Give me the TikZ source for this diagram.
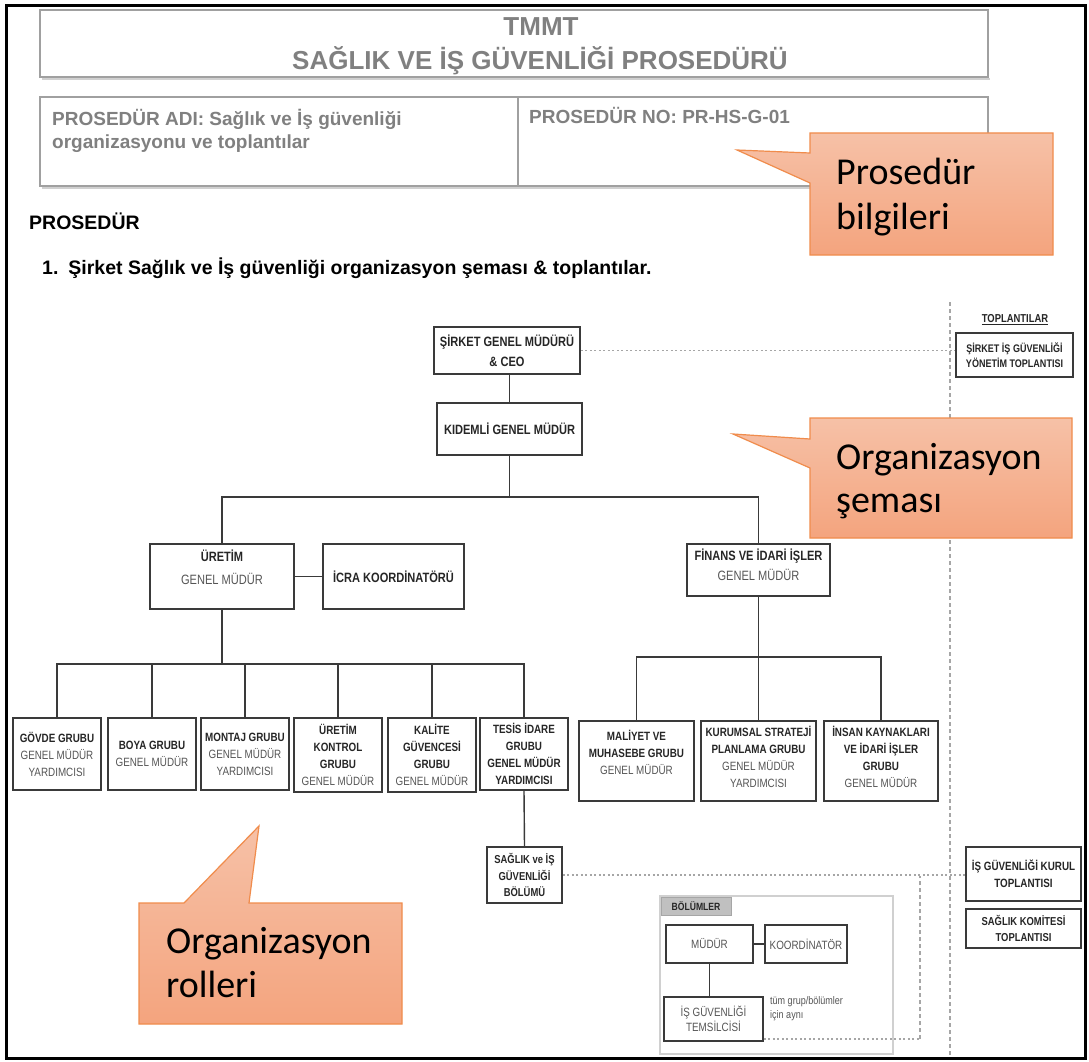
\documentclass[tikz,border=0pt]{standalone}
\usepackage{fontspec}
\setmainfont{Liberation Sans}
\newfontfamily\calfont{Carlito}
\newfontfamily\orgfont[FakeStretch=0.82]{Liberation Sans}
\usetikzlibrary{calc}
\definecolor{hdrgray}{HTML}{808080}
\definecolor{hdrline}{HTML}{A0A0A0}
\definecolor{hdrshadow}{HTML}{D0D0D0}
\definecolor{boxline}{HTML}{3A3A3A}
\definecolor{txtdark}{HTML}{262626}
\definecolor{txtgray}{HTML}{555555}
\definecolor{calloutTop}{HTML}{F6C1A7}
\definecolor{calloutBot}{HTML}{F4A47E}
\definecolor{calloutLine}{HTML}{F08C4C}
\definecolor{guide}{HTML}{A6A6A6}
\definecolor{tabfill}{HTML}{C0C0C0}
\newcommand{\ob}{\orgfont\bfseries\color{txtdark}}
\newcommand{\onr}{\orgfont\mdseries\color{txtgray}}
\tikzset{
  obox/.style={draw=boxline, line width=1.5pt, fill=white, align=center, inner sep=1pt},
  bigtxt/.style={font=\orgfont\fontsize{13.5}{20}\selectfont},
  smalltxt/.style={font=\orgfont\fontsize{12}{17}\selectfont},
  conn/.style={draw=boxline, line width=1.4pt},
  dotln/.style={draw=guide, line width=1.4pt, dash pattern=on 2pt off 2.5pt},
  dashln/.style={draw=guide, line width=1.4pt, dash pattern=on 4pt off 3pt},
  callout/.style={draw=calloutLine, line width=1.2pt, top color=calloutTop, bottom color=calloutBot},
  calltxt/.style={font=\calfont\fontsize{38}{46}\selectfont, anchor=base west, text=black, inner sep=0pt},
  hdrtxt/.style={font=\bfseries\fontsize{19}{23}\selectfont, text=hdrgray, anchor=base west, inner sep=0pt},
}
\begin{document}
\begin{tikzpicture}[x=1pt,y=-1pt]
\useasboundingbox (0,0) rectangle (1089,1062);
\fill[white] (0,0) rectangle (1089,1062);

% ---------- header ----------
\draw[hdrshadow, line width=2.5pt] (42,79) -- (990,79);
\draw[hdrline, line width=1.5pt] (40,10) rectangle (988,77);
\node[font=\bfseries\fontsize{26}{30}\selectfont, text=hdrgray, anchor=base, inner sep=0pt] (tmmt) at (541,36) {TMMT};
\node[font=\bfseries\fontsize{26}{30}\selectfont, text=hdrgray, anchor=base, inner sep=0pt] (ttl) at (540,70) {SAĞLIK VE İŞ GÜVENLİĞİ PROSEDÜRÜ};

\draw[hdrshadow, line width=2.5pt] (42,188) -- (990,188);
\draw[hdrline, line width=1.5pt] (40,97) rectangle (988,186);
\draw[hdrline, line width=1.5pt] (518,97) -- (518,186);
\node[hdrtxt] (adi1) at (52,126) {PROSEDÜR ADI: Sağlık ve İş güvenliği};
\node[hdrtxt] (adi2) at (52,149) {organizasyonu ve toplantılar};
\node[hdrtxt] (pno) at (529,124) {PROSEDÜR NO: PR-HS-G-01};

\node[font=\bfseries\fontsize{19.5}{23}\selectfont, anchor=base west, inner sep=0pt] (prosedur) at (29,229) {PROSEDÜR};
\node[font=\bfseries\fontsize{19.5}{23}\selectfont, anchor=base west, inner sep=0pt] (item1) at (42,274) {1.\hspace{10pt}Şirket Sağlık ve İş güvenliği organizasyon şeması \& toplantılar.};

% ---------- guide lines ----------
\coordinate (gtop) at (950,302);
\coordinate (gbot) at (950,1058);
\draw[dashln] (gtop) -- (gbot);

% ---------- top of org chart ----------
\node[obox, bigtxt, minimum width=146pt, minimum height=47pt] (ceo) at (507,350.5) {{\ob ŞİRKET GENEL MÜDÜRÜ}\\{\ob \& CEO}};
\node[obox, bigtxt, minimum width=145pt, minimum height=52pt] (kid) at (509.5,429) {{\ob KIDEMLİ GENEL MÜDÜR}};
\node[obox, bigtxt, minimum width=144pt, minimum height=65pt] (uretim) at (222,576.5) {{\ob ÜRETİM}\\[3pt]{\onr GENEL MÜDÜR}\\[-2pt]\mbox{}};
\node[obox, bigtxt, minimum width=141pt, minimum height=65pt] (icra) at (393.5,576.5) {{\ob İCRA KOORDİNATÖRÜ}};
\node[obox, bigtxt, minimum width=143pt, minimum height=52pt] (finans) at (758.5,570) {{\ob FİNANS VE İDARİ İŞLER}\\{\onr GENEL MÜDÜR}\\[-10pt]\mbox{}};

% ---------- bottom rows ----------
\node[obox, smalltxt, minimum width=88pt, minimum height=72pt] (govde) at (57,754) {{\ob GÖVDE GRUBU}\\{\onr GENEL MÜDÜR}\\{\onr YARDIMCISI}};
\node[obox, smalltxt, minimum width=88pt, minimum height=72pt] (boya) at (152,754) {{\ob BOYA GRUBU}\\{\onr GENEL MÜDÜR}};
\node[obox, smalltxt, minimum width=88pt, minimum height=72pt] (montaj) at (245,754) {{\ob MONTAJ GRUBU}\\{\onr GENEL MÜDÜR}\\{\onr YARDIMCISI}};
\node[obox, smalltxt, minimum width=88pt, minimum height=74pt] (ukontrol) at (338,755) {{\ob ÜRETİM}\\{\ob KONTROL}\\{\ob GRUBU}\\{\onr GENEL MÜDÜR}};
\node[obox, smalltxt, minimum width=88pt, minimum height=74pt] (kalite) at (432,755) {{\ob KALİTE}\\{\ob GÜVENCESİ}\\{\ob GRUBU}\\{\onr GENEL MÜDÜR}};
\node[obox, smalltxt, minimum width=88pt, minimum height=72pt] (tesis) at (524,754) {{\ob TESİS İDARE}\\{\ob GRUBU}\\{\ob GENEL MÜDÜR}\\{\ob YARDIMCISI}};

\node[obox, smalltxt, minimum width=115pt, minimum height=80pt] (maliyet) at (636.5,761) {{\ob MALİYET VE}\\{\ob MUHASEBE GRUBU}\\{\onr GENEL MÜDÜR}\\\mbox{}};
\node[obox, smalltxt, minimum width=115pt, minimum height=80pt] (kurumsal) at (758.5,761) {{\ob KURUMSAL STRATEJİ}\\{\ob PLANLAMA GRUBU}\\{\onr GENEL MÜDÜR}\\{\onr YARDIMCISI}\\[-9pt]\mbox{}};
\node[obox, smalltxt, minimum width=114pt, minimum height=80pt] (insan) at (881,761) {{\ob İNSAN KAYNAKLARI}\\{\ob VE İDARİ İŞLER}\\{\ob GRUBU}\\{\onr GENEL MÜDÜR}\\[-9pt]\mbox{}};

\node[obox, font=\orgfont\fontsize{11.5}{16.5}\selectfont, minimum width=75pt, minimum height=56pt] (saglik) at (524.5,875) {{\ob SAĞLIK ve İŞ}\\{\ob GÜVENLİĞİ}\\{\ob BÖLÜMÜ}};

% ---------- meetings ----------
\node[font=\orgfont\bfseries\fontsize{11.5}{14}\selectfont, text=txtdark, inner sep=0pt] (toplantilar) at (1015,320) {\underline{TOPLANTILAR}};
\node[obox, font=\orgfont\fontsize{11}{15}\selectfont, minimum width=117pt, minimum height=44pt] (sym) at (1014.5,355) {{\ob ŞİRKET İŞ GÜVENLİĞİ}\\{\ob YÖNETİM TOPLANTISI}};
\node[obox, smalltxt, minimum width=115pt, minimum height=54pt] (kurul) at (1023.5,874) {{\ob İŞ GÜVENLİĞİ KURUL}\\{\ob TOPLANTISI}};
\node[obox, font=\orgfont\fontsize{11.5}{16}\selectfont, minimum width=115pt, minimum height=39pt] (komite) at (1023.5,928.5) {{\ob SAĞLIK KOMİTESİ}\\{\ob TOPLANTISI}};

% ---------- BÖLÜMLER container ----------
\draw[draw=hdrshadow, line width=1.5pt] (660,896) rectangle (893,1054);
\node[draw=guide, fill=tabfill, line width=1pt, minimum width=70pt, minimum height=18pt, inner sep=0pt, font=\orgfont\bfseries\fontsize{10.5}{12}\selectfont, text=txtdark] (tab) at (696,906) {BÖLÜMLER};
\node[obox, smalltxt, minimum width=87pt, minimum height=38pt] (mudur) at (709.5,944) {{\onr MÜDÜR}};
\node[obox, smalltxt, minimum width=82pt, minimum height=38pt] (koord) at (806,944) {{\onr KOORDİNATÖR}};
\node[obox, font=\orgfont\fontsize{12}{15}\selectfont, minimum width=99pt, minimum height=44pt] (temsilci) at (713.5,1019) {{\onr İŞ GÜVENLİĞİ}\\{\onr TEMSİLCİSİ}};
\node[font=\orgfont\fontsize{11}{14}\selectfont, text=txtgray, align=left, anchor=north west, inner sep=0pt] (note) at (770,996) {tüm grup/bölümler\\için aynı};

% ---------- connectors ----------
\coordinate (b1) at (509.5,497);
\coordinate (b2) at (222,664);
\coordinate (b3) at (758.5,657);
\draw[conn] (ceo.south -| kid.north) -- (kid.north);
\draw[conn] (kid.south) -- (b1);
\draw[conn] (uretim.north) |- (b1) -| (finans.north);
\draw[conn] (uretim.east) -- (icra.west);
\draw[conn] (uretim.south) -- (b2);
\foreach \c in {govde,boya,montaj,ukontrol,kalite,tesis}
  \draw[conn] (b2) -| (\c.north);
\draw[conn] (finans.south) -- (b3);
\foreach \c in {maliyet,kurumsal,insan}
  \draw[conn] (b3) -| (\c.north);
\draw[conn] (tesis.south) -- (saglik.north);
\draw[conn] (mudur.east) -- (koord.west);
\draw[conn] (mudur.south) -- (mudur.south |- temsilci.north);

\draw[dotln] (ceo.east) -- (ceo.east -| sym.west);
\draw[dotln] (saglik.east) -- (saglik.east -| kurul.west);
\coordinate (tq) at (920,1039);
\coordinate (tv) at (920,876);
\draw[dotln] (temsilci.east |- tq) -- (tq);
\draw[dashln] (tq) -- (tv);

% ---------- callouts ----------
\draw[callout] (810,133) -- (1053,133) -- (1053,255) -- (810,255) -- (810,183) -- (737,150) -- (810,153) -- cycle;
\node[calltxt] (c1a) at (836,184) {Prosedür};
\node[calltxt] (c1b) at (836,229) {bilgileri};

\draw[callout] (810,418) -- (1072,418) -- (1072,538) -- (810,538) -- (810,468) -- (733,434) -- (810,439) -- cycle;
\node[calltxt] (c2a) at (836,469) {Organizasyon};
\node[calltxt] (c2b) at (836,512) {şeması};

\draw[callout] (139,903) -- (184,903) -- (259,826) -- (249,903) -- (402,903) -- (402,1024) -- (139,1024) -- cycle;
\node[calltxt] (c3a) at (166,953) {Organizasyon};
\node[calltxt] (c3b) at (166,997) {rolleri};

% ---------- frame ----------
\draw[black, line width=3pt] (6,6) rectangle (1085,1058);
\end{tikzpicture}
\end{document}
